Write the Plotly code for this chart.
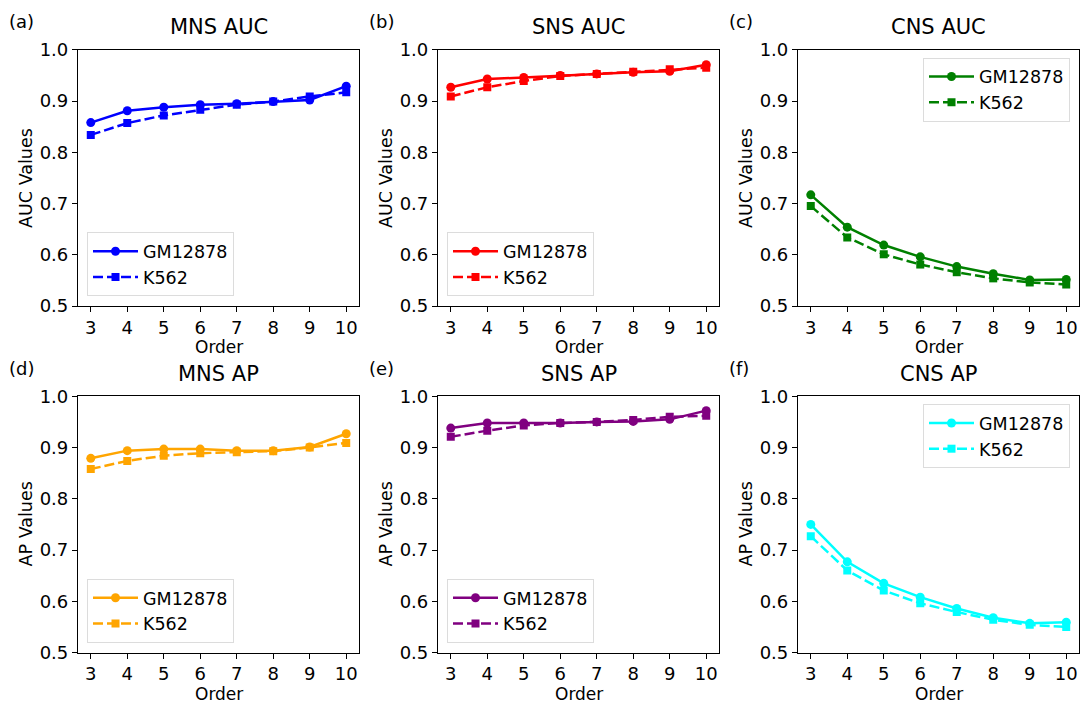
import plotly.graph_objects as go

W, H = 1084, 713

orders = [3, 4, 5, 6, 7, 8, 9, 10]

mns_auc_gm = [0.858, 0.881, 0.888, 0.893, 0.895, 0.899, 0.902, 0.929]
mns_auc_k = [0.834, 0.857, 0.872, 0.883, 0.893, 0.899, 0.909, 0.917]
sns_auc_gm = [0.927, 0.943, 0.946, 0.950, 0.953, 0.956, 0.958, 0.971]
sns_auc_k = [0.909, 0.927, 0.939, 0.949, 0.953, 0.957, 0.962, 0.965]
cns_auc_gm = [0.717, 0.654, 0.619, 0.596, 0.577, 0.563, 0.551, 0.552]
cns_auc_k = [0.695, 0.634, 0.601, 0.581, 0.566, 0.554, 0.546, 0.542]
mns_ap_gm = [0.879, 0.894, 0.897, 0.897, 0.894, 0.894, 0.901, 0.927]
mns_ap_k = [0.858, 0.874, 0.884, 0.889, 0.891, 0.893, 0.900, 0.909]
sns_ap_gm = [0.938, 0.948, 0.948, 0.948, 0.950, 0.951, 0.955, 0.972]
sns_ap_k = [0.921, 0.933, 0.943, 0.948, 0.950, 0.954, 0.960, 0.962]
cns_ap_gm = [0.750, 0.677, 0.635, 0.608, 0.586, 0.568, 0.557, 0.559]
cns_ap_k = [0.727, 0.660, 0.621, 0.596, 0.579, 0.564, 0.554, 0.550]

series_names = ["GM12878", "K562"]
y_ticks = [0.5, 0.6, 0.7, 0.8, 0.9, 1.0]
y_tick_text = ["0.5", "0.6", "0.7", "0.8", "0.9", "1.0"]

panel_letters = ["(a)", "(b)", "(c)", "(d)", "(e)", "(f)"]
panel_titles = ["MNS AUC", "SNS AUC", "CNS AUC", "MNS AP", "SNS AP", "CNS AP"]
panel_ylabels = ["AUC Values"] * 3 + ["AP Values"] * 3
panel_data = [
    (mns_auc_gm, mns_auc_k), (sns_auc_gm, sns_auc_k), (cns_auc_gm, cns_auc_k),
    (mns_ap_gm, mns_ap_k), (sns_ap_gm, sns_ap_k), (cns_ap_gm, cns_ap_k),
]
panel_colors = ["blue", "red", "green", "orange", "purple", "cyan"]

# layout (pixels)
col_x = [(78, 359), (438, 719), (798, 1079)]
row_y = [(40, 304), (397, 661)]
FONT = "DejaVu Sans"


def px(x):
    return x / W


def py(y):
    return 1 - y / H


fig = go.Figure()
annotations = []
layout = dict(
    width=W, height=H, margin=dict(l=0, r=0, t=0, b=0),
    paper_bgcolor="white", plot_bgcolor="white",
    font=dict(family=FONT, size=18, color="black"),
    showlegend=True,
)

for i in range(6):
    r, c = divmod(i, 3)
    x0, x1 = col_x[c]
    y0, y1 = row_y[r]
    n = i + 1
    xa = "x" if n == 1 else f"x{n}"
    ya = "y" if n == 1 else f"y{n}"
    lg = "legend" if n == 1 else f"legend{n}"
    gm, k = panel_data[i]
    col = panel_colors[i]
    fig.add_trace(go.Scatter(
        x=orders, y=gm, name=series_names[0], mode="lines+markers",
        line=dict(color=col, width=2.5), marker=dict(symbol="circle", size=9, color=col),
        xaxis=xa, yaxis=ya, legend=lg))
    fig.add_trace(go.Scatter(
        x=orders, y=k, name=series_names[1], mode="lines+markers",
        line=dict(color=col, width=2.5, dash="10px,4px"),
        marker=dict(symbol="square", size=8, color=col),
        xaxis=xa, yaxis=ya, legend=lg))

    axis_common = dict(showline=True, linecolor="black", linewidth=1.2, mirror=True,
                       ticks="outside", ticklen=5, tickwidth=1.2, tickcolor="black",
                       showgrid=False, zeroline=False,
                       tickfont=dict(family=FONT, size=18, color="black"))
    layout["xaxis" if n == 1 else f"xaxis{n}"] = dict(
        domain=[px(x0), px(x1)], range=[2.65, 10.35], tickvals=orders,
        anchor=ya, **axis_common)
    layout["yaxis" if n == 1 else f"yaxis{n}"] = dict(
        domain=[py(y1), py(y0)], range=[0.5, 1.0], tickvals=y_ticks, ticktext=y_tick_text,
        anchor=xa, **axis_common)

    # legend placement
    if c == 2:
        leg = dict(x=px(x1 - 9), y=py(y0 + 8), xanchor="right", yanchor="top")
    else:
        leg = dict(x=px(x0 + 9), y=py(y1 - 10), xanchor="left", yanchor="bottom")
    leg.update(bgcolor="rgba(255,255,255,0.8)", bordercolor="#dcdcdc", borderwidth=1,
               font=dict(family=FONT, size=17.5, color="black"), tracegroupgap=0,
               itemwidth=45, xref="paper", yref="paper")
    layout[lg] = leg

    cx = (x0 + x1) / 2
    cy = (y0 + y1) / 2
    annotations.append(dict(text=panel_titles[i], x=px(cx), y=py(y0 - 23), xref="paper",
                            yref="paper", showarrow=False, xanchor="center", yanchor="middle",
                            font=dict(family=FONT, size=21, color="black")))
    annotations.append(dict(text=panel_letters[i], x=px(x0 - 71), y=py(y0 - 29), xref="paper",
                            yref="paper", showarrow=False, xanchor="left", yanchor="middle",
                            font=dict(family=FONT, size=18, color="black")))
    annotations.append(dict(text="Order", x=px(cx), y=py(y1 + 55), xref="paper",
                            yref="paper", showarrow=False, xanchor="center", yanchor="bottom",
                            font=dict(family=FONT, size=17, color="black")))
    annotations.append(dict(text=panel_ylabels[i], x=px(x0 - 52), y=py(cy), xref="paper",
                            yref="paper", showarrow=False, xanchor="center", yanchor="middle",
                            textangle=-90, font=dict(family=FONT, size=17.5, color="black")))

layout["annotations"] = annotations
fig.update_layout(**layout)
fig.write_html("out.html")
